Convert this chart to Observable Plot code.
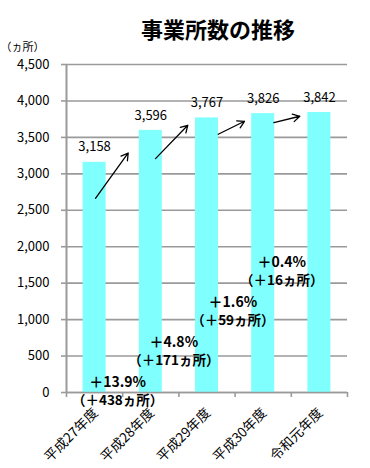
<!DOCTYPE html>
<html><head><meta charset="utf-8">
<script src="https://cdn.jsdelivr.net/npm/d3@7"></script>
<script src="https://cdn.jsdelivr.net/npm/@observablehq/plot@0.6"></script>
<style>body{margin:0;background:#fff}</style>
</head><body><div id="chart"></div>
<script>
// ---- data ----
const categories = ["平成27年度", "平成28年度", "平成29年度", "平成30年度", "令和元年度"];
const counts = [3158, 3596, 3767, 3826, 3842];
const yTicks = [0, 500, 1000, 1500, 2000, 2500, 3000, 3500, 4000, 4500];
const changePct = ["＋13.9%", "＋4.8%", "＋1.6%", "＋0.4%"];
const changeCount = ["（＋438ヵ所）", "（＋171ヵ所）", "（＋59ヵ所）", "（＋16ヵ所）"];
const title = "事業所数の推移";
const unit = "（ヵ所）";

// ---- annotation placement (data units) ----
const changeLabelX = [0.41, 1.41, 2.46, 3.33];
const changeLabelY = [137, 686, 1236, 1785];
const arrowX1 = [0.016, 1.084, 2.2, 3.19];
const arrowX2 = [0.598, 1.658, 2.667, 3.651];
const arrowY1 = [2664, 3209, 3543, 3703];
const arrowY2 = [3286, 3666, 3721, 3790];
const categoryLabelY = -250;

const font = "'Noto Sans CJK JP', 'Noto Sans', sans-serif";
const gray = "#9a9a9a";
const idx = categories.map((d, i) => i);

const chart = Plot.plot({
  width: 370,
  height: 468,
  marginTop: 64,
  marginBottom: 76,
  marginLeft: 66,
  marginRight: 23,
  style: {fontFamily: font, background: "#fff", color: "#000"},
  x: {domain: [-0.5, categories.length - 0.5]},
  y: {domain: [0, 4500]},
  marks: [
    Plot.gridY(yTicks, {stroke: gray, strokeOpacity: 1, strokeWidth: 1.6}),
    Plot.rectY(counts, {x1: (d, i) => i - 0.205, x2: (d, i) => i + 0.205, y: d => d, fill: "#80ffff"}),
    Plot.ruleY([0], {stroke: gray, strokeWidth: 1.6}),
    Plot.ruleX([-0.5], {y1: 0, y2: 4500, stroke: gray, strokeWidth: 2}),
    Plot.axisY({ticks: yTicks, tickFormat: d3.format(","), tickSize: 5, tickPadding: 12, fontSize: 13, stroke: gray, strokeWidth: 1.6, strokeOpacity: 1}),
    Plot.axisX({ticks: idx.map(i => i - 0.5).concat([categories.length - 0.5]), tickFormat: () => "", tickSize: 5, stroke: gray, strokeWidth: 1.6, strokeOpacity: 1}),
    Plot.text(categories, {x: (d, i) => i + 0.02, y: () => categoryLabelY, text: d => d, rotate: -45, textAnchor: "end", fontSize: 13.5}),
    Plot.text(counts, {x: (d, i) => i, y: d => d, text: d => d3.format(",")(d), dy: -15, fontSize: 13}),
    Plot.arrow(arrowY1, {x1: (d, i) => arrowX1[i], y1: d => d, x2: (d, i) => arrowX2[i], y2: (d, i) => arrowY2[i], stroke: "#000", strokeWidth: 1.3, headLength: 9}),
    Plot.text(changePct, {x: (d, i) => changeLabelX[i], y: (d, i) => changeLabelY[i], text: d => d, fontWeight: "bold", fontSize: 14}),
    Plot.text(changeCount, {x: (d, i) => changeLabelX[i], y: (d, i) => changeLabelY[i], text: d => d, dy: 18.5, fontWeight: "bold", fontSize: 13.5}),
    Plot.text([title], {frameAnchor: "top", dx: 11, dy: -42, text: d => d, fontWeight: "bold", fontSize: 22}),
    Plot.text([unit], {frameAnchor: "top-left", dx: -66, dy: -21, textAnchor: "start", text: d => d, fontSize: 11})
  ]
});
document.getElementById("chart").appendChild(chart);
</script>
</body></html>
